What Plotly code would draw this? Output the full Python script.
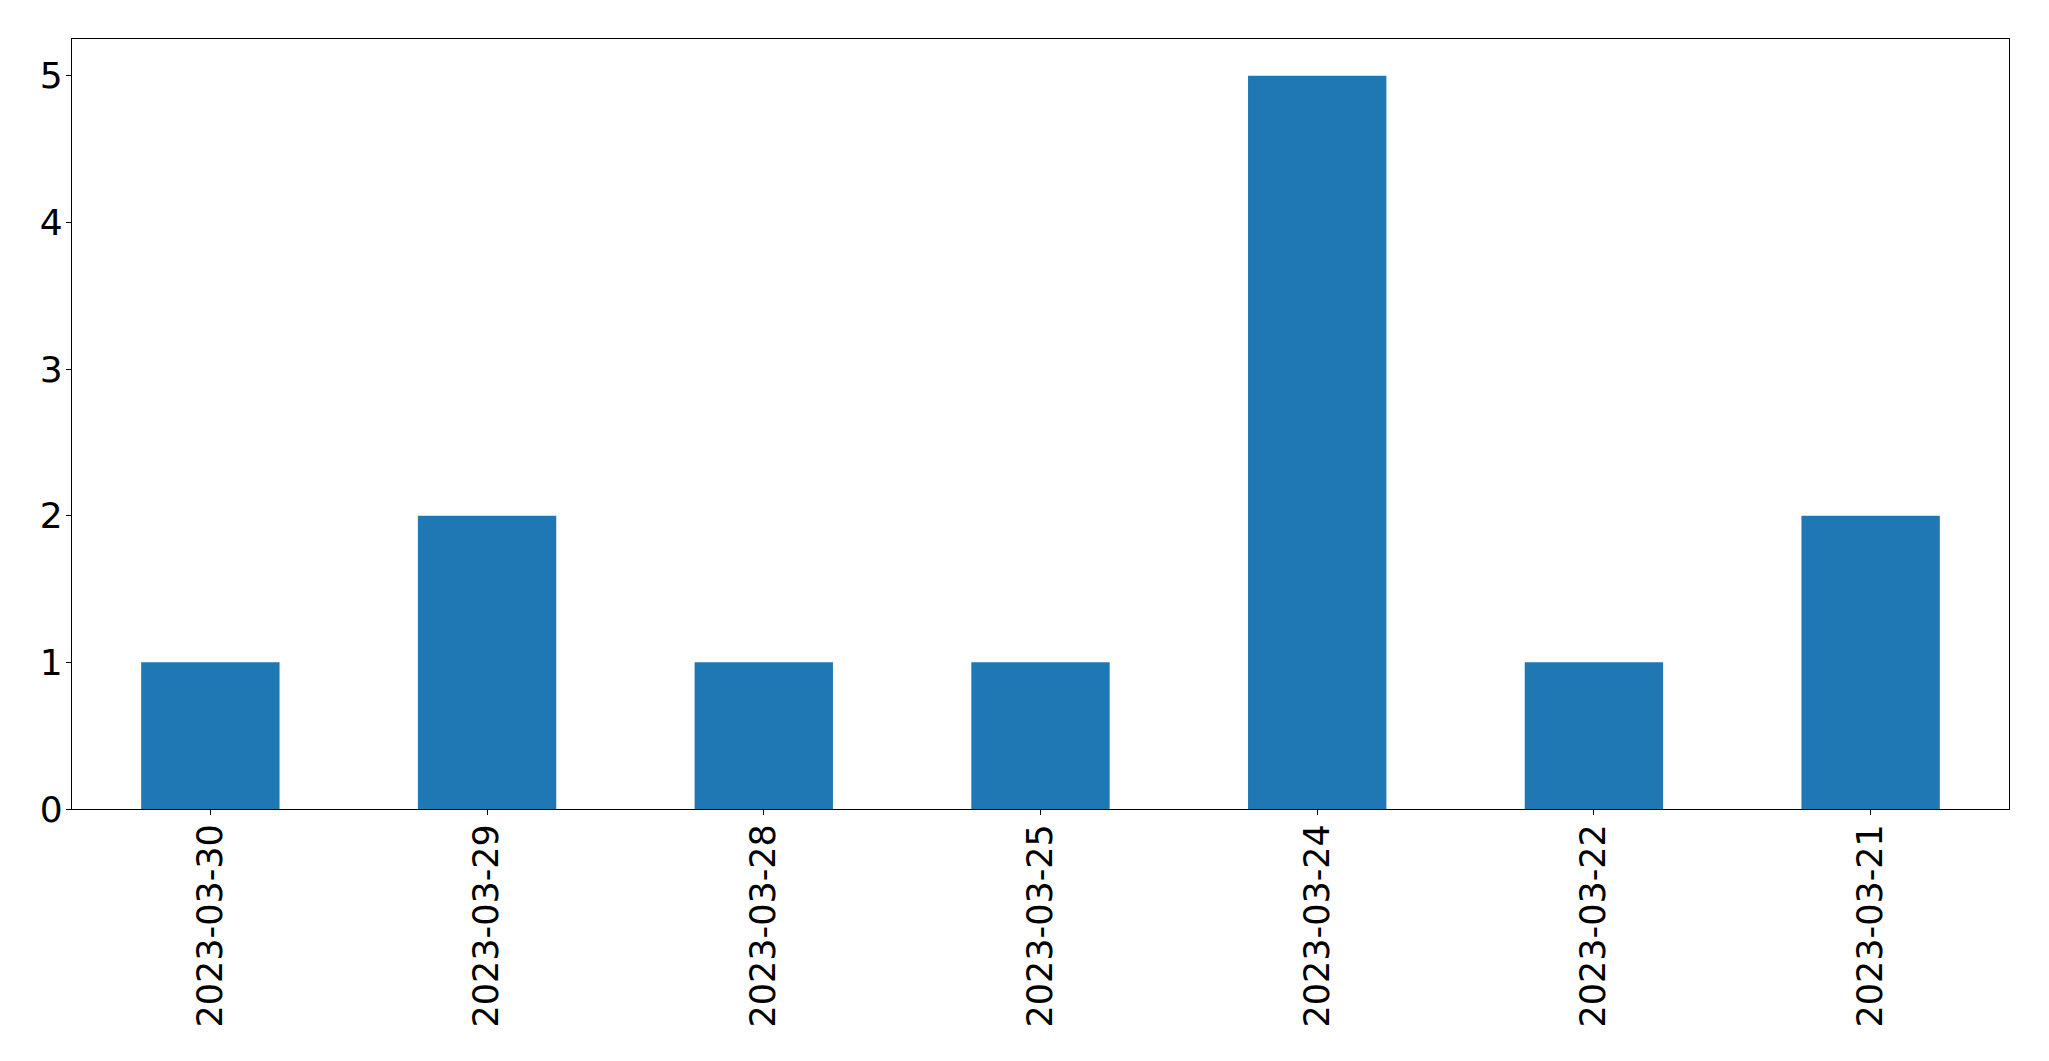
import plotly.graph_objects as go

categories = ["2023-03-30", "2023-03-29", "2023-03-28", "2023-03-25",
              "2023-03-24", "2023-03-22", "2023-03-21"]
counts = [1, 2, 1, 1, 5, 1, 2]

fig = go.Figure(go.Bar(x=categories, y=counts, marker_color="#1f77b4",
                       marker_line_width=0, width=0.5))

# page body has an 8px margin; compensate so the plot area lands at x 72..2009, y 39..809
fig.update_layout(
    width=2041, height=1053,
    margin=dict(l=64, r=40, t=31, b=252, autoexpand=False),
    plot_bgcolor="white", paper_bgcolor="white",
    font=dict(family="DejaVu Sans", size=35, color="black"),
    showlegend=False, bargap=0.5,
)
fig.update_xaxes(type="category", range=[-0.5, 6.5], tickangle=-90,
                 showline=True, linecolor="black", linewidth=1.3, mirror=True,
                 ticks="outside", ticklen=5, tickwidth=1.3, tickcolor="black",
                 showgrid=False, zeroline=False, ticklabelstandoff=-5)
fig.update_yaxes(range=[0, 5.25], tickvals=[0, 1, 2, 3, 4, 5],
                 tickfont=dict(size=36),
                 showline=True, linecolor="black", linewidth=1.3, mirror=True,
                 ticks="outside", ticklen=5, tickwidth=1.3, tickcolor="black",
                 showgrid=False, zeroline=False, ticklabelstandoff=-4)

fig.write_html("out.html")
